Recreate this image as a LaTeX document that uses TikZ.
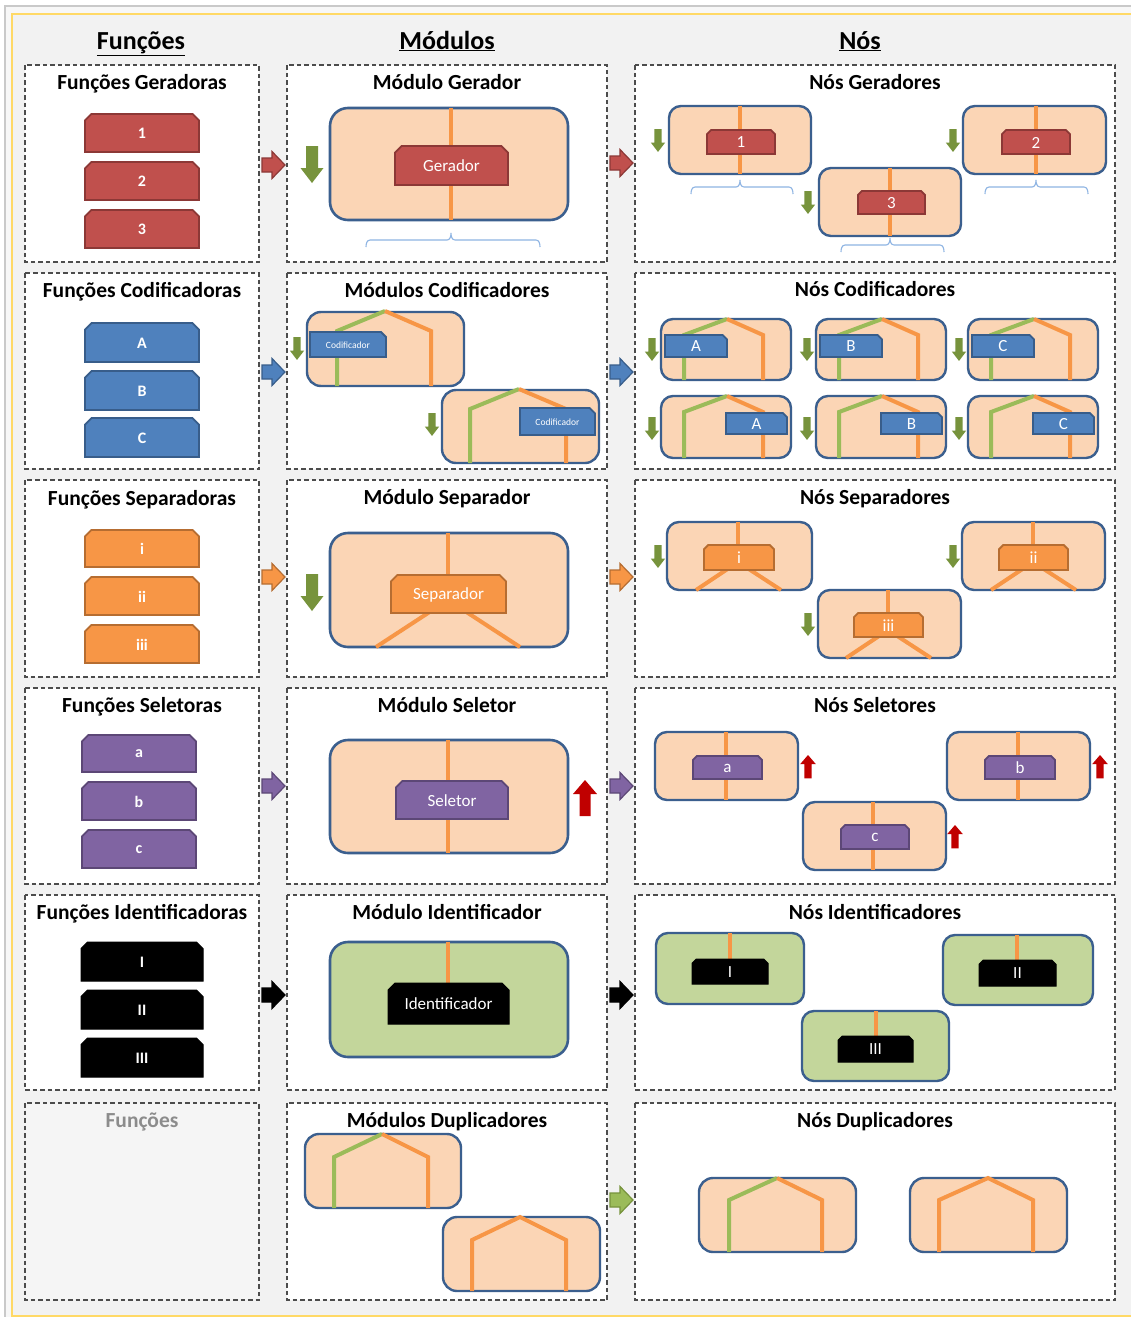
\documentclass[tikz,border=0pt]{standalone}
\usepackage{fontspec}
\setmainfont{Carlito}
\definecolor{pagebg}{HTML}{F2F2F2}
\definecolor{framey}{HTML}{FFD966}
\definecolor{frameg}{HTML}{C9C9C9}
\definecolor{peach}{HTML}{FBD5B5}
\definecolor{boxedge}{HTML}{3B5F8E}
\definecolor{orangeln}{HTML}{F79646}
\definecolor{greenln}{HTML}{9BBB59}
\definecolor{greenarr}{HTML}{77933C}
\definecolor{redf}{HTML}{C0504D}
\definecolor{redd}{HTML}{8C3836}
\definecolor{bluef}{HTML}{4F81BD}
\definecolor{blued}{HTML}{385D8A}
\definecolor{orangef}{HTML}{F79646}
\definecolor{oranged}{HTML}{B66D31}
\definecolor{purplef}{HTML}{8064A2}
\definecolor{purpled}{HTML}{5C4776}
\definecolor{uparr}{HTML}{C00000}
\definecolor{idgreen}{HTML}{C3D69B}
\definecolor{bracecol}{HTML}{8EB4E3}
\definecolor{emptypanel}{HTML}{F5F5F5}

\tikzset{
  panel/.style={draw=black!70, line width=1.1pt, dash pattern=on 4.5pt off 3pt, fill=white},
  hdr/.style={anchor=base, font=\fontsize{26}{30}\selectfont\bfseries},
  ptitle/.style={anchor=base, font=\fontsize{21.5}{25}\selectfont\bfseries},
  ftxt/.style={text=white, font=\fontsize{16}{18}\selectfont\bfseries},
  mtxt/.style={text=white, font=\fontsize{17}{20}\selectfont},
  ntxt/.style={text=white, font=\fontsize{17}{19}\selectfont},
  ctxt/.style={text=white, font=\fontsize{9.5}{11}\selectfont},
  modbox/.style={draw=boxedge, line width=2.6pt, fill=peach, rounded corners=18pt},
  idbox/.style={draw=boxedge, line width=2.6pt, fill=idgreen, rounded corners=18pt},
  nodebox/.style={draw=boxedge, line width=2.4pt, fill=peach, rounded corners=12pt},
  nidbox/.style={draw=boxedge, line width=2.4pt, fill=idgreen, rounded corners=12pt},
  wire/.style={line width=4pt, draw=orangeln},
  gwire/.style={line width=4pt, draw=greenln},
  redblk/.style={fill=redf, draw=redd, line width=1.8pt},
  blueblk/.style={fill=bluef, draw=blued, line width=1.8pt},
  orangeblk/.style={fill=orangef, draw=oranged, line width=1.8pt},
  purpleblk/.style={fill=purplef, draw=purpled, line width=1.8pt},
  blackblk/.style={fill=black, draw=black, line width=1pt},
  bracket/.style={draw=bracecol, line width=1.1pt}
}

% block with both top corners cut
\newcommand\snipblk[8]{%
  \pgfmathsetmacro\snipc{0.17*(#5-#3)}%
  \draw[#6] (#2,#5) -- (#2,#3+\snipc) -- (#2+\snipc,#3) -- (#4-\snipc,#3) -- (#4,#3+\snipc) -- (#4,#5) -- cycle;
  \node[#7] (#1) at ({(#2+#4)/2},{(#3+#5)/2+0.5}) {#8};
}
% block with the top right corner cut
\newcommand\snipone[8]{%
  \pgfmathsetmacro\snipc{0.2*(#5-#3)}%
  \draw[#6] (#2,#5) -- (#2,#3) -- (#4-\snipc,#3) -- (#4,#3+\snipc) -- (#4,#5) -- cycle;
  \node[#7] (#1) at ({(#2+#4)/2},{(#3+#5)/2+0.5}) {#8};
}
% fat arrow pointing right: left x, middle y, style
\newcommand\rtarrow[3]{%
  \draw[#3] (#1,#2-7) -- (#1+10,#2-7) -- (#1+10,#2-13.5) -- (#1+23,#2) -- (#1+10,#2+13.5) -- (#1+10,#2+7) -- (#1,#2+7) -- cycle;
}
% fat arrow pointing down: centre x, top y, scale, colour
\newcommand\dnarrow[4]{%
  \fill[#4, shift={(#1,#2)}, scale=#3] (-6,0) -- (6,0) -- (6,22) -- (11.5,22) -- (0,37) -- (-11.5,22) -- (-6,22) -- cycle;
}
% fat arrow pointing up: centre x, top y, scale, colour
\newcommand\upfat[4]{%
  \fill[#4, shift={(#1,#2)}, scale=#3] (0,0) -- (12,14) -- (5.5,14) -- (5.5,36) -- (-5.5,36) -- (-5.5,14) -- (-12,14) -- cycle;
}
% brace under a box: left x, right x, centre x, y
\newcommand\brc[4]{%
  \draw[bracket] (#1,#4+7) to[out=90,in=180] (#1+4,#4) -- (#3-4,#4) to[out=0,in=-90] (#3,#4-7) to[out=-90,in=180] (#3+4,#4) -- (#2-4,#4) to[out=0,in=90] (#2,#4+7);
}

\begin{document}
\begin{tikzpicture}[x=1pt,y=-1pt]
\useasboundingbox (0,0) rectangle (1131,1317);
\fill[white] (0,0) rectangle (1131,1317);
\draw[frameg, line width=1.4pt, fill=pagebg!60] (5,6) rectangle (1140,1330);
\draw[framey, line width=1.6pt, fill=pagebg] (12,14) rectangle (1140,1316);

% column headers
\node[hdr] (hfun) at (141,49) {\underline{Funções}};
\node[hdr] (hmod) at (447,49) {\underline{Módulos}};
\node[hdr] (hnos) at (860,49) {\underline{Nós}};

% panels
\foreach \ya/\yb in {65/262, 273/469, 480/677, 688/884, 895/1090}{
  \draw[panel] (25,\ya) rectangle (259,\yb);
}
\draw[panel, fill=emptypanel] (25,1103) rectangle (259,1300);
\foreach \ya/\yb in {65/262, 273/469, 480/677, 688/884, 895/1090, 1103/1300}{
  \draw[panel] (287,\ya) rectangle (607,\yb);
  \draw[panel] (635,\ya) rectangle (1115,\yb);
}

% panel titles
\node[ptitle] (t11) at (142,89) {Funções Geradoras};
\node[ptitle] (t12) at (447,89) {Módulo Gerador};
\node[ptitle] (t13) at (875,89) {Nós Geradores};
\node[ptitle] (t21) at (142,297) {Funções Codificadoras};
\node[ptitle] (t22) at (447,297) {Módulos Codificadores};
\node[ptitle] (t23) at (875,296) {Nós Codificadores};
\node[ptitle] (t31) at (142,505) {Funções Separadoras};
\node[ptitle] (t32) at (447,504) {Módulo Separador};
\node[ptitle] (t33) at (875,504) {Nós Separadores};
\node[ptitle] (t41) at (142,712) {Funções Seletoras};
\node[ptitle] (t42) at (447,712) {Módulo Seletor};
\node[ptitle] (t43) at (875,712) {Nós Seletores};
\node[ptitle] (t51) at (142,919) {Funções Identificadoras};
\node[ptitle] (t52) at (447,919) {Módulo Identificador};
\node[ptitle] (t53) at (875,919) {Nós Identificadores};
\node[ptitle, text=black!45] (t61) at (142,1127) {Funções};
\node[ptitle] (t62) at (447,1127) {Módulos Duplicadores};
\node[ptitle] (t63) at (875,1127) {Nós Duplicadores};

% ---------- functions column ----------
\snipblk{f1}{85}{114}{199}{152}{redblk}{ftxt}{1}
\snipblk{f2}{85}{162}{199}{200}{redblk}{ftxt}{2}
\snipblk{f3}{85}{210}{199}{248}{redblk}{ftxt}{3}
\snipblk{fA}{85}{323}{199}{362}{blueblk}{ftxt}{A}
\snipblk{fB}{85}{371}{199}{410}{blueblk}{ftxt}{B}
\snipblk{fC}{85}{418}{199}{457}{blueblk}{ftxt}{C}
\snipblk{fi}{85}{530}{199}{567}{orangeblk}{ftxt}{i}
\snipblk{fii}{85}{577}{199}{615}{orangeblk}{ftxt}{ii}
\snipblk{fiii}{85}{625}{199}{663}{orangeblk}{ftxt}{iii}
\snipblk{fa}{82}{735}{196}{772}{purpleblk}{ftxt}{a}
\snipblk{fb}{82}{782}{196}{820}{purpleblk}{ftxt}{b}
\snipblk{fc}{82}{830}{196}{868}{purpleblk}{ftxt}{c}
\snipblk{fI}{81}{942}{203}{981}{blackblk}{ftxt}{I}
\snipblk{fII}{81}{990}{203}{1029}{blackblk}{ftxt}{II}
\snipblk{fIII}{81}{1038}{203}{1077}{blackblk}{ftxt}{III}

% ---------- arrows between columns ----------
\rtarrow{262}{165}{fill=redf, draw=redd, line width=1.2pt}
\rtarrow{610}{163}{fill=redf, draw=redd, line width=1.2pt}
\rtarrow{262}{372}{fill=bluef, draw=blued, line width=1.2pt}
\rtarrow{610}{372}{fill=bluef, draw=blued, line width=1.2pt}
\rtarrow{262}{577}{fill=orangef, draw=oranged, line width=1.2pt}
\rtarrow{610}{577}{fill=orangef, draw=oranged, line width=1.2pt}
\rtarrow{262}{786}{fill=purplef, draw=purpled, line width=1.2pt}
\rtarrow{610}{786}{fill=purplef, draw=purpled, line width=1.2pt}
\rtarrow{262}{995}{fill=black, draw=black, line width=1.2pt}
\rtarrow{610}{995}{fill=black, draw=black, line width=1.2pt}
\rtarrow{610}{1200}{fill=greenln, draw=greenarr, line width=1.2pt}

% ---------- row 1: generators ----------
\draw[modbox] (330,108) rectangle (568,220);
\draw[wire] (451,108) -- (451,220);
\snipblk{mgen}{395}{146}{508}{185}{redblk}{mtxt}{Gerador}
\dnarrow{312}{146}{1}{greenarr}
\brc{366}{540}{451}{240}

\draw[nodebox] (669,106) rectangle (811,174);
\draw[wire] (740,106) -- (740,174);
\snipblk{ng1}{707}{130}{775}{154}{redblk}{ntxt}{1}
\dnarrow{658}{129}{0.62}{greenarr}
\brc{691}{793}{740}{187}

\draw[nodebox] (963,106) rectangle (1106,174);
\draw[wire] (1036,106) -- (1036,174);
\snipblk{ng2}{1002}{130}{1070}{154}{redblk}{ntxt}{2}
\dnarrow{953}{129}{0.62}{greenarr}
\brc{985}{1088}{1036}{187}

\draw[nodebox] (819,168) rectangle (961,236);
\draw[wire] (890,168) -- (890,236);
\snipblk{ng3}{858}{191}{925}{214}{redblk}{ntxt}{3}
\dnarrow{808}{191}{0.62}{greenarr}
\brc{841}{944}{890}{245}

% ---------- row 2: encoders ----------
\draw[nodebox, rounded corners=14pt] (307,312) rectangle (464,386);
\draw[gwire] (337,386) -- (337,331) -- (385,311);
\draw[wire] (385,311) -- (431,331) -- (431,386);
\snipone{mcod1}{310}{332}{386}{357}{blueblk}{ctxt}{Codificador}
\dnarrow{297}{337}{0.62}{greenarr}

\draw[nodebox, rounded corners=14pt] (442,390) rectangle (599,463);
\draw[gwire] (470,463) -- (470,409) -- (519,389);
\draw[wire] (519,389) -- (566,409) -- (566,463);
\snipone{mcod2}{520}{408}{595}{435}{blueblk}{ctxt}{Codificador}
\dnarrow{432}{413}{0.62}{greenarr}

\foreach \dx/\lab in {0/A, 155/B, 307/C}{
  \begin{scope}[xshift=\dx pt]
    \draw[nodebox] (661,319) rectangle (791,380);
    \draw[gwire] (684,380) -- (684,335) -- (727,319);
    \draw[wire] (727,319) -- (763,335) -- (763,380);
    \snipone{nc\lab1}{665}{335}{727}{357}{blueblk}{ntxt}{\lab}
    \dnarrow{652}{338}{0.62}{greenarr}
    \draw[nodebox] (661,396) rectangle (791,458);
    \draw[gwire] (684,458) -- (684,412) -- (727,396);
    \draw[wire] (727,396) -- (763,412) -- (763,458);
    \snipone{nc\lab2}{726}{413}{787}{434}{blueblk}{ntxt}{\lab}
    \dnarrow{652}{417}{0.62}{greenarr}
  \end{scope}
}

% ---------- row 3: separators ----------
\draw[modbox] (330,533) rectangle (568,647);
\draw[wire] (448,533) -- (448,580);
\draw[wire] (376,647) -- (448,600) -- (520,647);
\snipblk{msep}{391}{575}{506}{613}{orangeblk}{mtxt}{Separador}
\dnarrow{312}{574}{1}{greenarr}

\draw[nodebox] (667,522) rectangle (812,590);
\draw[wire] (738,522) -- (738,550);
\draw[wire] (696,590) -- (738,562) -- (781,590);
\snipblk{nsi}{704}{545}{774}{570}{orangeblk}{ntxt}{i}
\dnarrow{658}{545}{0.62}{greenarr}

\draw[nodebox] (962,522) rectangle (1105,590);
\draw[wire] (1033,522) -- (1033,550);
\draw[wire] (991,590) -- (1033,562) -- (1076,590);
\snipblk{nsii}{999}{545}{1068}{570}{orangeblk}{ntxt}{ii}
\dnarrow{953}{545}{0.62}{greenarr}

\draw[nodebox] (818,590) rectangle (961,658);
\draw[wire] (888,590) -- (888,618);
\draw[wire] (846,658) -- (888,630) -- (931,658);
\snipblk{nsiii}{854}{613}{923}{637}{orangeblk}{ntxt}{iii}
\dnarrow{808}{613}{0.62}{greenarr}

% ---------- row 4: selectors ----------
\draw[modbox] (330,740) rectangle (568,853);
\draw[wire] (448,740) -- (448,853);
\snipblk{msel}{396}{781}{508}{819}{purpleblk}{mtxt}{Seletor}
\upfat{585}{780}{1}{uparr}

\draw[nodebox] (655,732) rectangle (798,800);
\draw[wire] (726,732) -- (726,800);
\snipblk{nsa}{693}{756}{762}{779}{purpleblk}{ntxt}{a}
\upfat{808}{755}{0.65}{uparr}

\draw[nodebox] (947,732) rectangle (1090,800);
\draw[wire] (1018,732) -- (1018,800);
\snipblk{nsb}{985}{756}{1055}{779}{purpleblk}{ntxt}{b}
\upfat{1100}{755}{0.65}{uparr}

\draw[nodebox] (803,802) rectangle (946,870);
\draw[wire] (873,802) -- (873,870);
\snipblk{nsc}{841}{825}{909}{849}{purpleblk}{ntxt}{c}
\upfat{955}{825}{0.65}{uparr}

% ---------- row 5: identifiers ----------
\draw[idbox] (330,942) rectangle (568,1057);
\draw[wire] (448,942) -- (448,985);
\snipblk{mid}{388}{983}{509}{1024}{blackblk}{mtxt}{Identificador}

\draw[nidbox] (656,933) rectangle (804,1004);
\draw[wire] (730,933) -- (730,961);
\snipblk{niI}{692}{959}{768}{984}{blackblk}{ntxt}{I}

\draw[nidbox] (943,935) rectangle (1093,1005);
\draw[wire] (1017,935) -- (1017,962);
\snipblk{niII}{979}{960}{1056}{986}{blackblk}{ntxt}{II}

\draw[nidbox] (802,1011) rectangle (949,1081);
\draw[wire] (876,1011) -- (876,1038);
\snipblk{niIII}{838}{1036}{913}{1062}{blackblk}{ntxt}{III}

% ---------- row 6: duplicators ----------
\draw[nodebox, rounded corners=14pt] (305,1134) rectangle (461,1208);
\draw[gwire] (334,1208) -- (334,1157) -- (382,1134);
\draw[wire] (382,1134) -- (428,1157) -- (428,1208);

\draw[nodebox, rounded corners=14pt] (443,1217) rectangle (600,1291);
\draw[wire] (472,1291) -- (472,1240) -- (520,1217) -- (566,1240) -- (566,1291);

\draw[nodebox, rounded corners=14pt] (699,1178) rectangle (856,1252);
\draw[gwire] (729,1252) -- (729,1200) -- (777,1178);
\draw[wire] (777,1178) -- (822,1200) -- (822,1252);

\draw[nodebox, rounded corners=14pt] (910,1178) rectangle (1067,1252);
\draw[wire] (939,1252) -- (939,1200) -- (988,1178) -- (1033,1200) -- (1033,1252);
\end{tikzpicture}
\end{document}
